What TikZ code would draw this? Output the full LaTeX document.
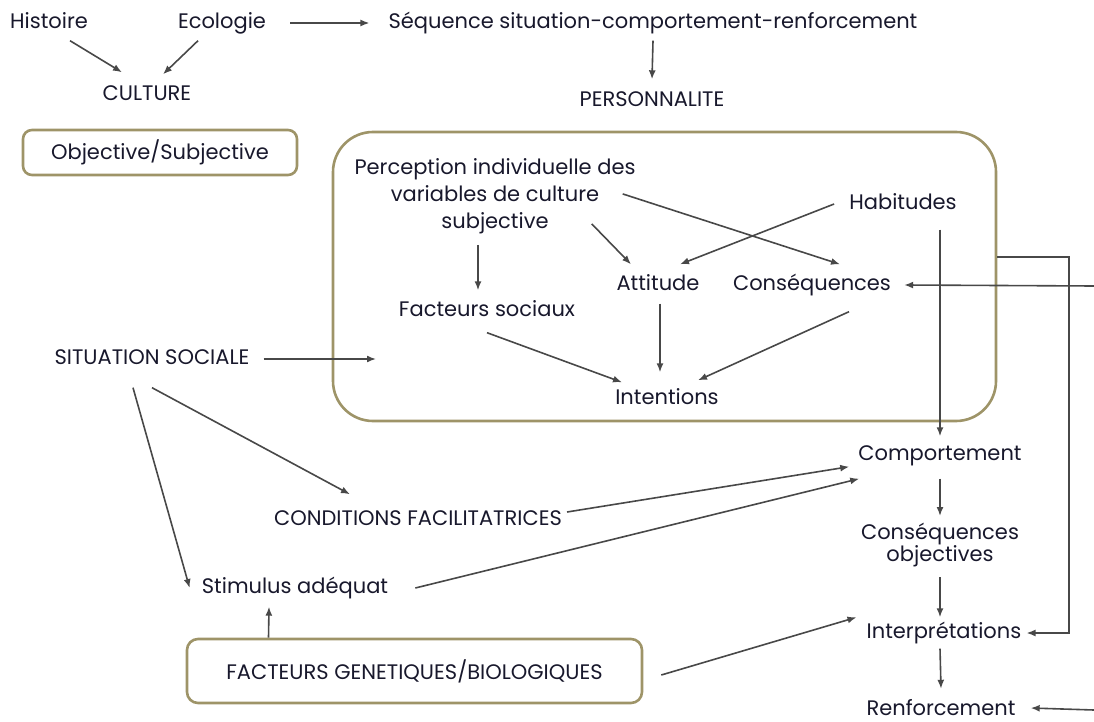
\documentclass[tikz,border=0pt]{standalone}
\usepackage{fontspec}
\setmainfont{Poppins}
\usetikzlibrary{arrows.meta}
\definecolor{filc}{RGB}{72,72,72}
\definecolor{cadrec}{RGB}{158,148,104}
\definecolor{textec}{RGB}{24,24,44}
\tikzset{
  lbl/.style={text=textec, inner sep=2pt, text height=15pt, text depth=4pt},
  bloc/.style={text=textec, inner sep=2pt, align=center},
  gbox/.style={draw=cadrec, line width=2.6pt, rounded corners=9pt, text=textec},
  fl/.style={draw=filc, line width=1.6pt, >={Latex[length=9pt,width=7pt]}, ->},
}
\begin{document}
\begin{tikzpicture}[x=1pt, y=-1pt, font=\fontsize{21}{27}\selectfont]
  \useasboundingbox (0,0) rectangle (1094,722);
  % haut
  \node[lbl] (hist) at (49,23) {Histoire};
  \node[lbl] (eco) at (222,23) {Ecologie};
  \node[lbl] (seq) at (653,23) {Séquence situation-comportement-renforcement};
  \node[lbl] (cult) at (147,95) {CULTURE};
  \node[lbl] (pers) at (652,101) {PERSONNALITE};
  \node[gbox, minimum width=274pt, minimum height=45pt] (objsub) at (160,152.5) {Objective/Subjective};
  % cadre central
  \node[gbox, rounded corners=40pt, minimum width=663pt, minimum height=289pt, inner sep=0pt] (cadre) at (664.5,276.5) {};
  \node[bloc, anchor=north] (perc) at (495,156) {Perception individuelle des\\variables de culture\\subjective};
  \node[lbl] (hab) at (903,204) {Habitudes};
  \node[lbl] (att) at (658,285) {Attitude};
  \node[lbl] (csq) at (812,285) {Conséquences};
  \node[lbl] (fsoc) at (487,311) {Facteurs sociaux};
  \node[lbl] (intent) at (667,399) {Intentions};
  % gauche et bas
  \node[lbl] (situ) at (152,359) {SITUATION SOCIALE};
  \node[lbl] (cond) at (418,520) {CONDITIONS FACILITATRICES};
  \node[lbl] (stim) at (295,588) {Stimulus adéquat};
  \node[gbox, minimum width=455pt, minimum height=64pt, rounded corners=11pt] (genbio) at (414.5,671) {FACTEURS GENETIQUES/BIOLOGIQUES};
  % colonne droite
  \node[lbl] (comp) at (940,455) {Comportement};
  \node[bloc, anchor=north] (cobj) at (940,521) {Conséquences\\[-5pt]objectives};
  \node[lbl] (interp) at (944,633) {Interprétations};
  \node[lbl, text depth=1pt] (renf) at (941,708) {Renforcement};
  \coordinate (entree) at (376,359);
  \coordinate (coude) at (1069,257);
  \coordinate (bordD1) at (1094,286);
  \coordinate (bordD2) at (1094,710);

  \draw[fl] ([xshift=21pt,yshift=-6pt]hist.south) -- ([xshift=-25pt,yshift=11pt]cult.north);
  \draw[fl] ([xshift=-24pt,yshift=-6pt]eco.south) -- ([xshift=16pt,yshift=9pt]cult.north);
  \draw[fl, shorten <=22pt, shorten >=17pt] (eco.east) -- (seq.west);
  \draw[fl] ([yshift=-6pt]seq.south) -- ([yshift=10pt]pers.north);

  \draw[fl] ([yshift=-9pt]perc.south -| fsoc.north) ++(-9pt,0) -- ([xshift=-9pt,yshift=9pt]fsoc.north);
  \draw[fl] ([xshift=-46pt,yshift=12pt]perc.south east) -- ([xshift=-27pt,yshift=9pt]att.north);
  \draw[fl] ([xshift=-15pt,yshift=2pt]perc.east) -- ([xshift=28pt,yshift=9pt]csq.north);
  \draw[fl] ([xshift=-13pt]hab.west) -- ([xshift=22pt,yshift=9pt]att.north);
  \draw[fl] ([xshift=2pt,yshift=-7pt]att.south) -- ([xshift=-7pt,yshift=15pt]intent.north);
  \draw[fl] ([xshift=37pt,yshift=-15pt]csq.south) -- ([xshift=31pt,yshift=7pt]intent.north);
  \draw[fl] ([yshift=-10pt]fsoc.south) -- ([xshift=-45pt,yshift=5pt]intent.north);
  \draw[fl] (bordD1) -- ([xshift=11pt]csq.east);

  \draw[fl, shorten <=12pt] (situ.east) -- (entree);
  \draw[fl] ([yshift=-17pt]situ.south) -- ([xshift=-68pt,yshift=14pt]cond.north);
  \draw[fl] ([xshift=-19pt,yshift=-17pt]situ.south) -- ([xshift=-10pt]stim.west);
  \draw[fl] ([xshift=3pt,yshift=8pt]cond.east) -- ([xshift=-7pt]comp.south west);
  \draw[fl] ([xshift=25pt]stim.east) -- ([xshift=3pt,yshift=-12pt]comp.south west);
  \draw[fl] ([xshift=-146pt]genbio.north) -- ([xshift=-26pt,yshift=-7pt]stim.south);
  \draw[fl] ([xshift=18pt,yshift=-4pt]genbio.east) -- ([xshift=-8pt,yshift=4pt]interp.north west);

  \draw[fl] ([xshift=37pt,yshift=-14pt]hab.south) -- ([yshift=7pt]comp.north);
  \draw[fl] ([yshift=-12pt]comp.south) -- ([yshift=5pt]cobj.north);
  \draw[fl] ([yshift=-8pt]cobj.south) -- ([xshift=-4pt,yshift=4pt]interp.north);
  \draw[fl] ([xshift=-4pt,yshift=-4pt]interp.south) -- ([yshift=9pt]renf.north);
  \draw[fl] ([yshift=19.5pt]cadre.east) -- (coude) |- ([xshift=3pt]interp.east);
  \draw[fl] (bordD2) -- ([xshift=13pt]renf.east);
\end{tikzpicture}
\end{document}
